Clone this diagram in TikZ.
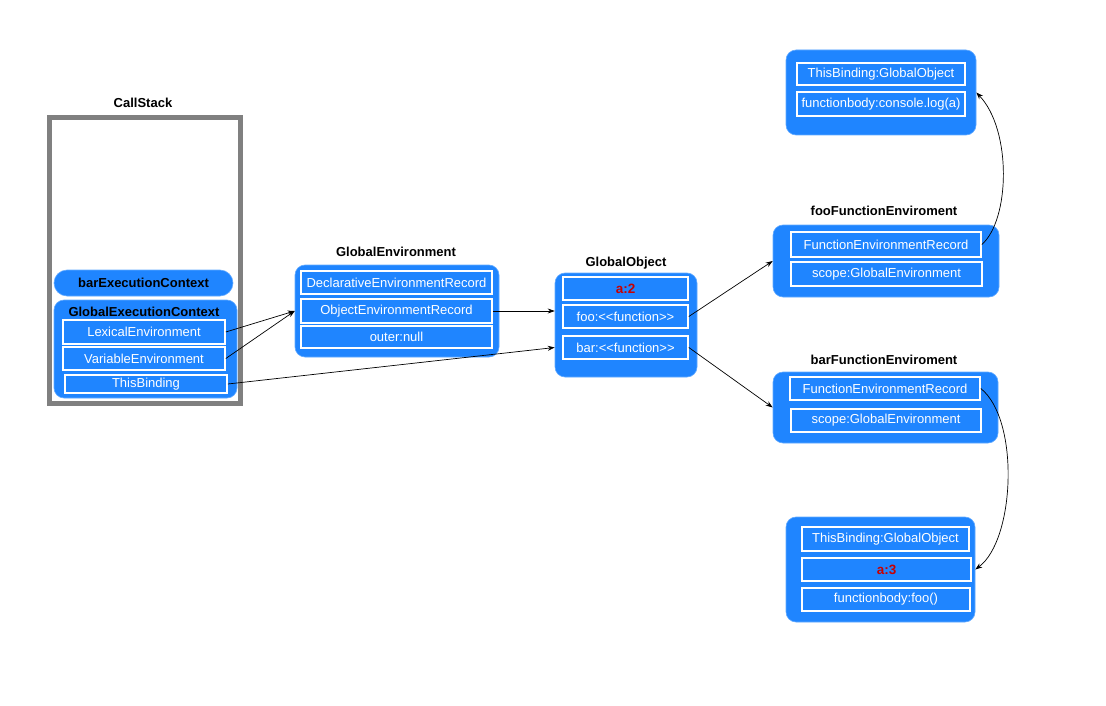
\documentclass[tikz,border=0pt]{standalone}
\usepackage{fontspec}
\setmainfont{Liberation Sans}
\usetikzlibrary{arrows.meta}
\definecolor{boxblue}{RGB}{31,133,255}
\definecolor{valred}{RGB}{200,0,0}
\definecolor{stackgrey}{RGB}{128,128,128}
\tikzset{
  outerbox/.style={fill=boxblue, draw=boxblue!70!white, line width=0.6pt, rounded corners=10pt},
  inbox/.style={draw=white, line width=1.6pt, fill=boxblue,
    text=white, font=\fontsize{13}{15}\selectfont, inner sep=0pt},
  title/.style={font=\fontsize{13}{15}\selectfont\bfseries, text=black},
  redval/.style={text=valred, font=\fontsize{13.5}{15}\selectfont\bfseries},
  conn/.style={-{Stealth[length=7pt,width=5pt]}, line width=0.7pt, black},
}
\newcommand{\ibox}[7]{% name, x1, y1, x2, y2, style, text
  \node[inbox,#6, minimum width={#4-#2}, minimum height={#5-#3}] (#1) at ({(#2+#4)/2},{(#3+#5)/2}) {#7};}
\begin{document}
\begin{tikzpicture}[x=1pt,y=-1pt]
\useasboundingbox (0,0) rectangle (1106,706);
\fill[white] (0,0) rectangle (1106,706);

% CallStack
\node[title] (cstitle) at (143,103) {CallStack};
\draw[stackgrey, line width=5pt] (49.5,117.5) rectangle (240.5,403.5);
\node[outerbox, rounded corners=13pt, minimum width=179pt, minimum height=26pt, inner sep=0pt,
  font=\fontsize{13}{15}\selectfont\bfseries] (barec) at (143.5,283) {barExecutionContext};
\node[outerbox, minimum width=183pt, minimum height=98pt, inner sep=0pt] (gec) at (145.5,349) {};
\node[title] (gectitle) at (144,312) {GlobalExecutionContext};
\ibox{lex}{63}{320}{225}{344}{}{LexicalEnvironment}
\ibox{var}{63}{347}{225}{370}{}{VariableEnvironment}
\ibox{thisb}{65}{375}{227}{393}{}{ThisBinding}

% GlobalEnvironment
\node[title] (getitle) at (396,252) {GlobalEnvironment};
\node[outerbox, minimum width=204pt, minimum height=92pt, inner sep=0pt] (ge) at (397,311) {};
\ibox{decl}{301}{271}{492}{294}{}{DeclarativeEnvironmentRecord}
\ibox{objrec}{301}{299}{492}{323}{}{ObjectEnvironmentRecord}
\ibox{outer}{301}{326}{492}{348}{}{outer:null}

% GlobalObject
\node[title] (gotitle) at (626,263) {GlobalObject};
\node[outerbox, minimum width=142pt, minimum height=104pt, inner sep=0pt] (go) at (626,325) {};
\ibox{a2}{563}{277}{688}{300}{redval}{a:2}
\ibox{foo}{563}{305}{688}{328}{}{foo:<{}<function>{}>}
\ibox{bar}{563}{336}{688}{359}{}{bar:<{}<function>{}>}

% top right box
\node[outerbox, minimum width=190pt, minimum height=85pt, inner sep=0pt] (fooctx) at (881,92.5) {};
\ibox{tb1}{797}{63}{965}{85}{}{ThisBinding:GlobalObject}
\ibox{body1}{797}{92}{965}{116}{}{functionbody:console.log(a)}

% fooFunctionEnviroment
\node[title] (fooftitle) at (884,211) {fooFunctionEnviroment};
\node[outerbox, minimum width=226pt, minimum height=72pt, inner sep=0pt] (foofe) at (886,261) {};
\ibox{foofer}{791}{232}{981}{257}{}{FunctionEnvironmentRecord}
\ibox{fooscope}{791}{262}{982}{286}{}{scope:GlobalEnvironment}

% barFunctionEnviroment
\node[title] (barftitle) at (884,360) {barFunctionEnviroment};
\node[outerbox, minimum width=225pt, minimum height=71pt, inner sep=0pt] (barfe) at (885.5,407.5) {};
\ibox{barfer}{790}{377}{980}{400}{}{FunctionEnvironmentRecord}
\ibox{barscope}{791}{409}{981}{432}{}{scope:GlobalEnvironment}

% bottom box
\node[outerbox, minimum width=189pt, minimum height=105pt, inner sep=0pt] (barctx) at (880.5,569.5) {};
\ibox{tb2}{802}{527}{969}{551}{}{ThisBinding:GlobalObject}
\ibox{a3}{802}{558}{971}{581}{redval}{a:3}
\ibox{body2}{802}{588}{970}{611}{}{functionbody:foo()}

% connectors
\coordinate (geIn) at (ge.west |- objrec);
\draw[conn] (lex.east) -- (geIn);
\draw[conn] (var.east) -- (geIn);
\draw[conn] (objrec.east) -- (go.west |- objrec);
\draw[conn] (thisb.east) -- (go.west |- bar);
\draw[conn] (foo.east) -- (foofe.west);
\draw[conn] (bar.east) -- (barfe.west);
\draw[conn] (foofer.east) .. controls (1010,220) and (1012,130) .. (fooctx.east);
\draw[conn] (barfer.east) .. controls (1020,420) and (1015,540) .. (barctx.east);
\end{tikzpicture}
\end{document}
